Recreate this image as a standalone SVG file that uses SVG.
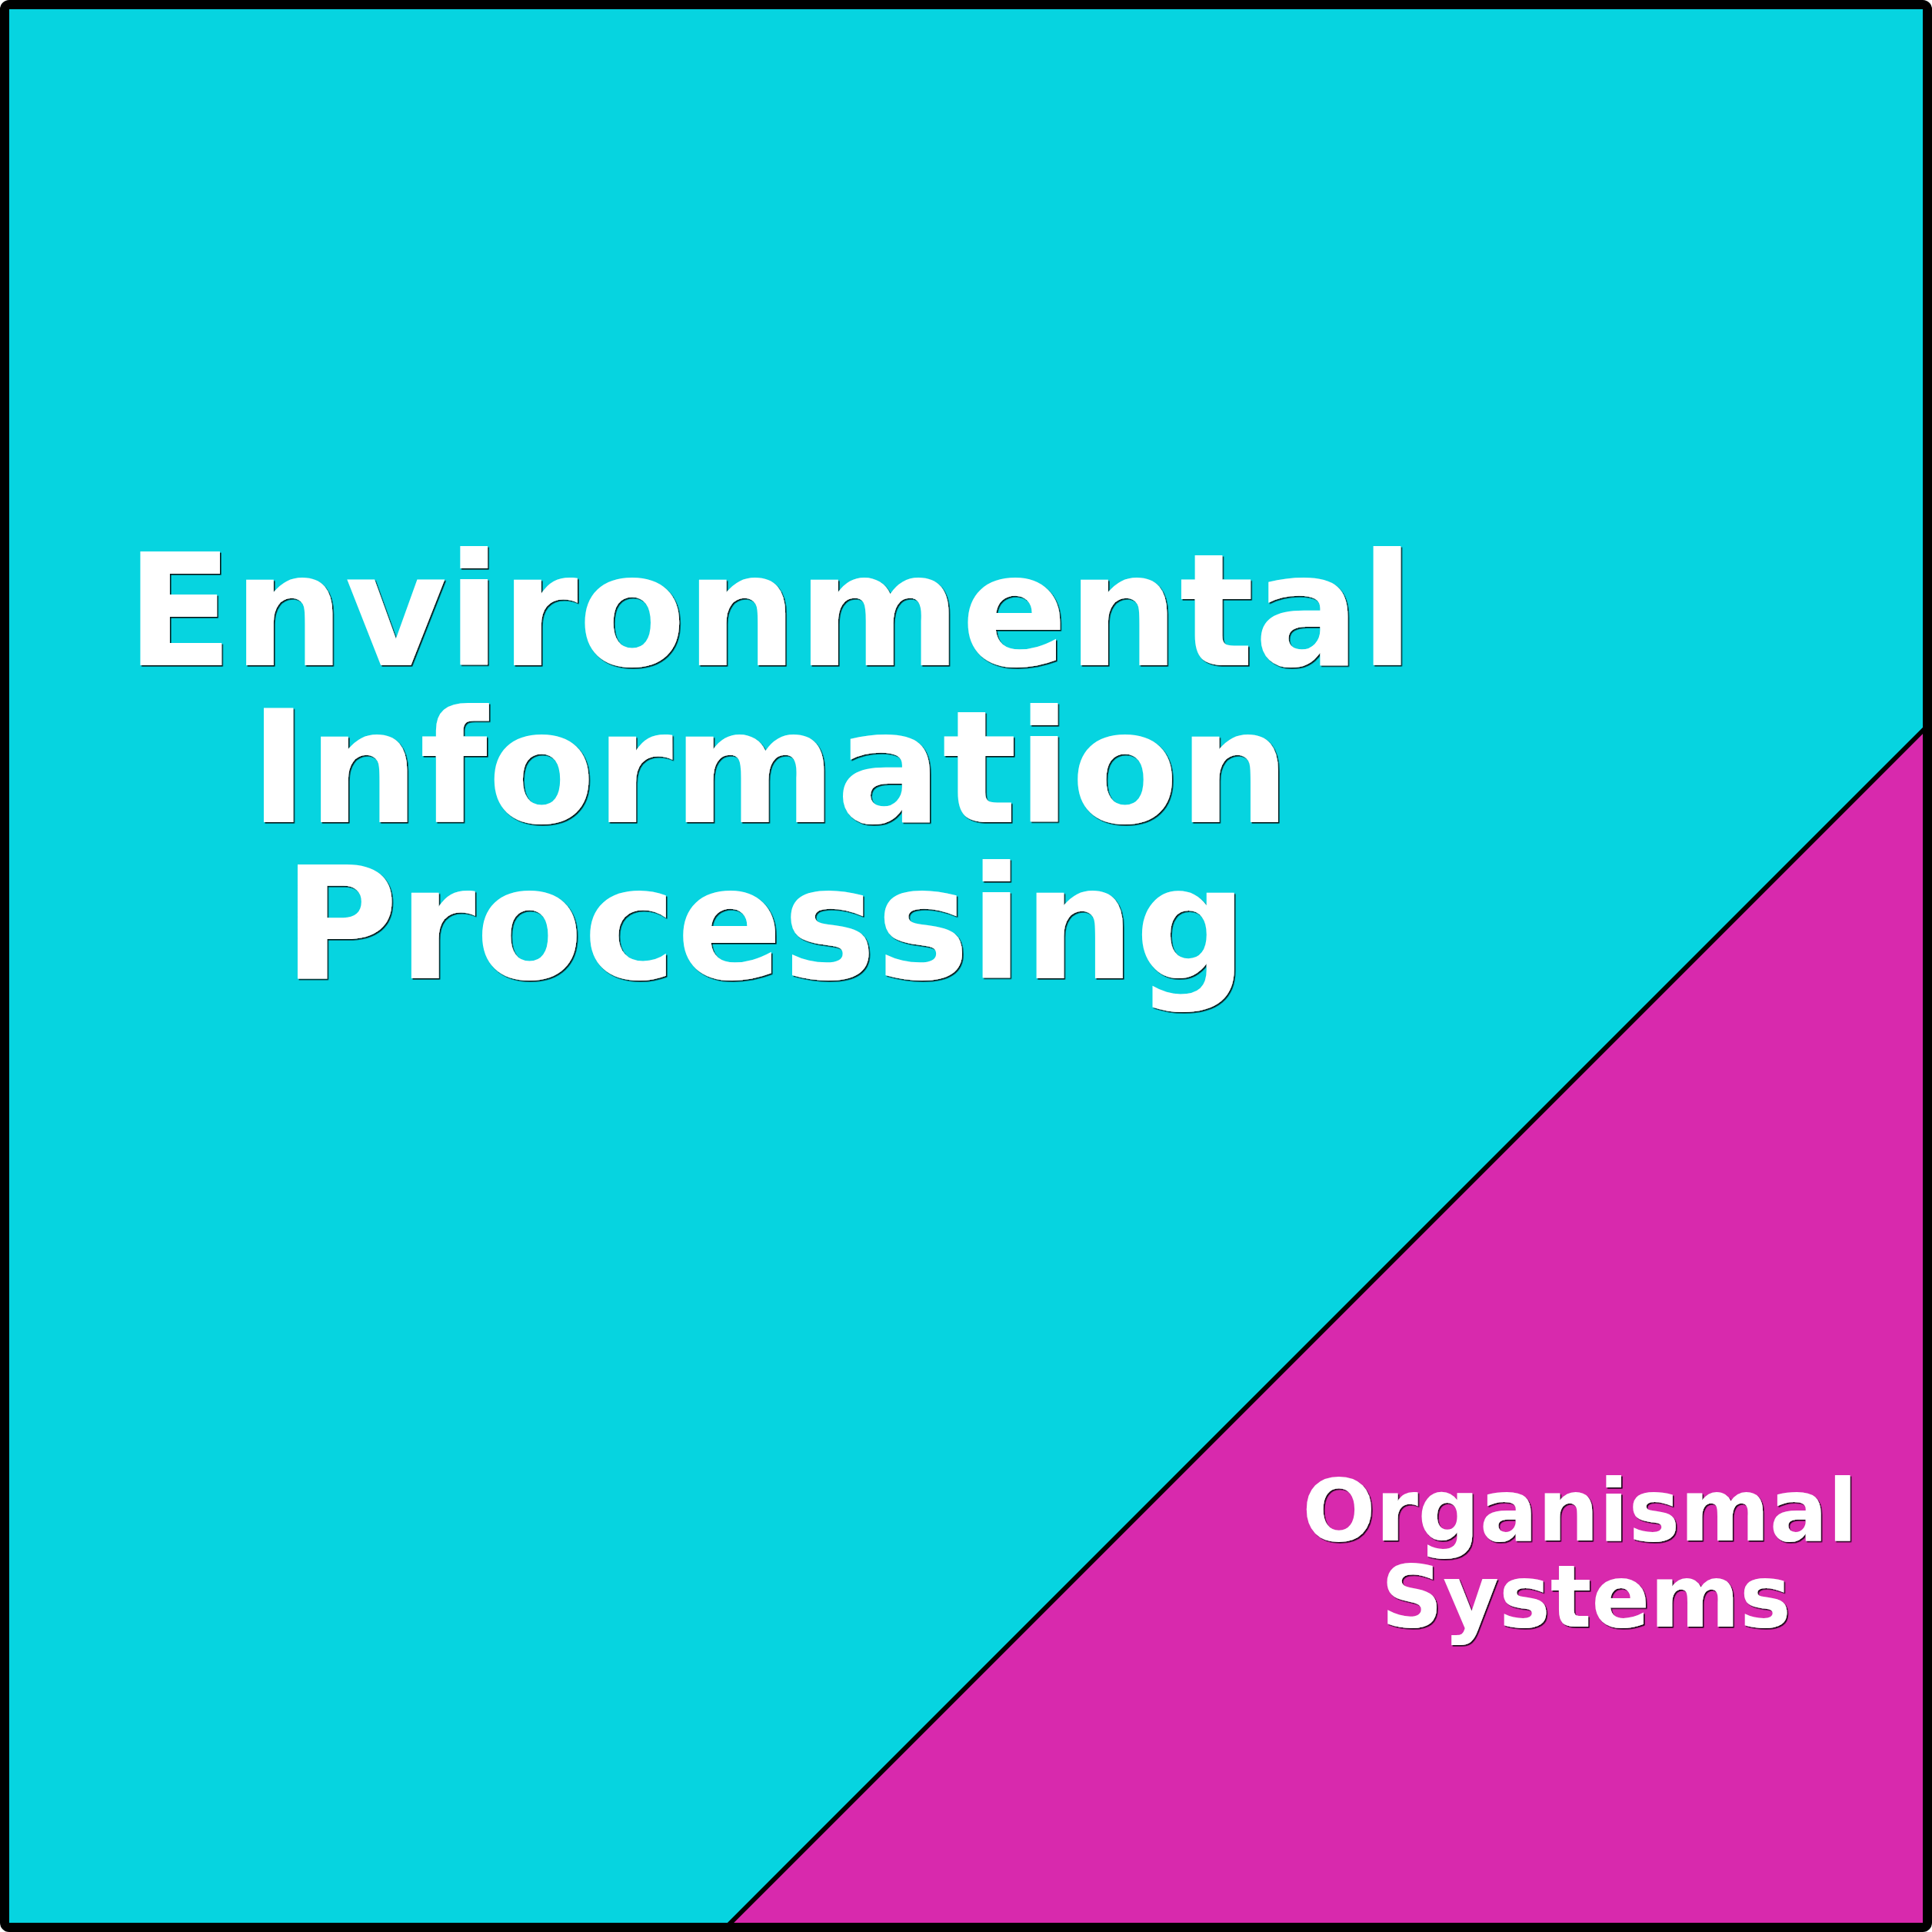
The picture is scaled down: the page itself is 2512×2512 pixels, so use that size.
<svg xmlns="http://www.w3.org/2000/svg" width="2512" height="2512" viewBox="0 0 2512 2512">
  <style>
    .lbl { font-family: "DejaVu Sans", "Liberation Sans", sans-serif; font-weight: bold; fill: #ffffff; text-anchor: middle; filter: url(#shadow); }
    .big { font-size: 204px; }
    .small { font-size: 112px; }
  </style>
  <defs>
    <filter id="shadow" x="-5%" y="-5%" width="110%" height="110%">
      <feDropShadow dx="1.6" dy="1.6" stdDeviation="0.5" flood-color="#000000" flood-opacity="0.9"/>
    </filter>
  </defs>
  <g id="environmental-information-processing">
    <rect x="6" y="6" width="2500" height="2500" fill="#06D4E0"/>
    <text class="lbl big" x="1001" y="865">Environmental</text>
    <text class="lbl big" x="1001" y="1069">Information</text>
    <text class="lbl big" x="995" y="1272">Processing</text>
  </g>
  <g id="organismal-systems">
    <polygon points="2506,944 2506,2506 944,2506" fill="#D829AD" stroke="#000000" stroke-width="6" stroke-linejoin="round"/>
    <text class="lbl small" x="2054" y="2003">Organismal</text>
    <text class="lbl small" x="2062" y="2115">Systems</text>
  </g>
  <g id="frame">
    <rect x="6" y="6" width="2500" height="2500" rx="6" ry="6" fill="none" stroke="#000000" stroke-width="12"/>
  </g>
</svg>
